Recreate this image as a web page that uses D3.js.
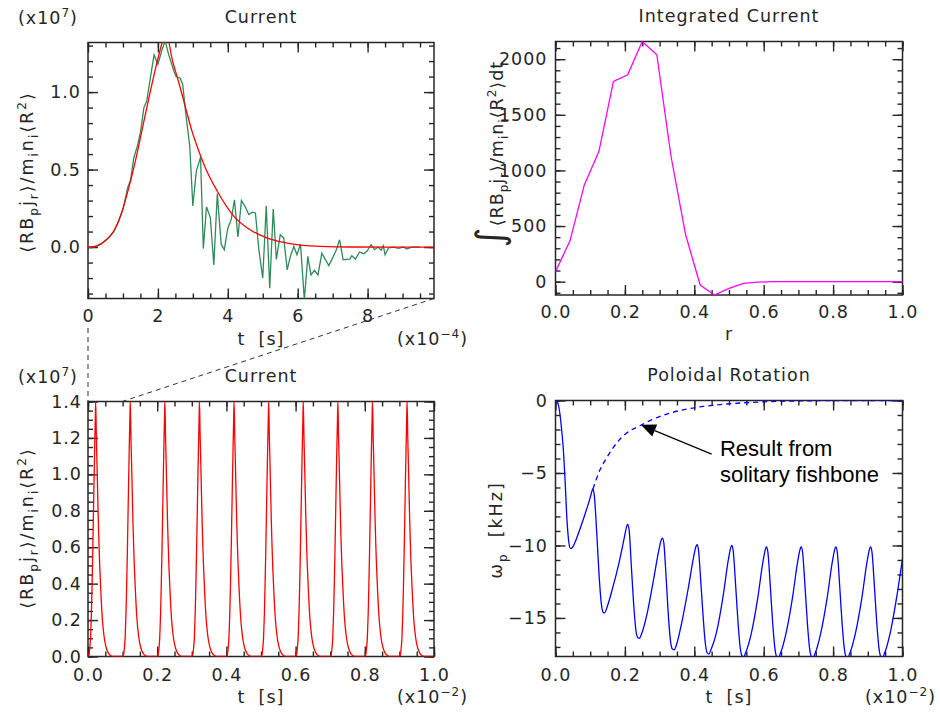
<!DOCTYPE html>
<html>
<head>
<meta charset="utf-8">
<script src="https://cdn.jsdelivr.net/npm/d3@7"></script>
<style>
  body { margin: 0; background: #fff; }
  svg text { font-family: "DejaVu Sans", sans-serif; font-size: 17.5px; letter-spacing: 1px; fill: #262626; }
  svg text.ylab { letter-spacing: 2px; }
  svg text.ylab.tight { letter-spacing: 1px; }
  svg text.note { font-family: "Liberation Sans", Arial, sans-serif; font-size: 22px; letter-spacing: 0; fill: #000; }
</style>
</head>
<body>
<script>
// ---- top-left: simulated current (green), t in 1e-4 s, value in 1e7
const tSim = [0, 0.1, 0.2, 0.31, 0.4, 0.5, 0.6, 0.74, 0.85, 1.0, 1.13, 1.22, 1.31, 1.41, 1.5, 1.6, 1.68, 1.79, 1.89, 2.0,
  2.12, 2.21, 2.31, 2.46, 2.52, 2.64, 2.71, 2.79, 2.91, 3.0, 3.1, 3.22, 3.3, 3.39, 3.5, 3.6, 3.7, 3.81, 3.9, 4.0,
  4.1, 4.19, 4.29, 4.39, 4.5, 4.6, 4.7, 4.79, 4.89, 5.0, 5.1, 5.2, 5.3, 5.39, 5.5, 5.6, 5.7, 5.79, 5.89, 5.98,
  6.08, 6.19, 6.29, 6.38, 6.48, 6.58, 6.69, 6.89, 7.0, 7.1, 7.2, 7.3, 7.4, 7.49, 7.55, 7.65, 7.77, 7.89, 7.98, 8.1,
  8.2, 8.3, 8.39, 8.45, 8.5, 8.6, 8.74, 8.88, 9.02, 9.12, 9.26, 9.4, 9.5];
const jSim = [0, 0.0, 0.003, 0.015, 0.025, 0.04, 0.06, 0.10, 0.15, 0.24, 0.38, 0.435, 0.575, 0.65, 0.74, 0.90, 0.94, 1.10, 1.24, 1.18,
  1.275, 1.33, 1.24, 1.135, 1.10, 1.09, 1.05, 0.877, 0.655, 0.265, 0.49, 0.58, -0.01, 0.26, 0.19, -0.115, 0.345, 0.02, -0.017, 0.12,
  0.18, 0.305, 0.065, 0.30, 0.26, 0.21, 0.225, 0.22, -0.02, -0.2, 0.267, -0.265, 0.245, -0.08, 0.08, 0.06, -0.147, -0.06, 0.004, -0.05,
  0.02, -0.34, -0.06, -0.18, -0.15, -0.18, -0.04, -0.12, -0.07, -0.02, 0.047, -0.082, -0.08, -0.078, -0.056, -0.078, -0.032, -0.043, -0.028, 0.015,
  -0.017, 0, -0.02, 0.008, -0.05, -0.006, 0, -0.008, 0, -0.013, 0, 0, 0];

// fitted single pulse (red), t in 1e-4 s
const tFit = [0, 0.27, 0.51, 0.74, 0.98, 1.17, 1.36, 1.55, 1.74, 1.93, 2.12, 2.22, 2.41, 2.6, 2.79, 2.98, 3.17, 3.36,
  3.7, 4.17, 4.65, 5.13, 5.6, 6.08, 6.65, 7.5, 9.9];
const jFit = [0, 0.008, 0.045, 0.105, 0.235, 0.385, 0.56, 0.76, 0.96, 1.15, 1.32, 1.40, 1.21, 1.06, 0.90, 0.745, 0.62, 0.51,
  0.36, 0.20, 0.11, 0.058, 0.03, 0.013, 0.004, 0.0005, 0];

// ---- top-right: integrated current vs r
const rInt = [0, 0.042, 0.083, 0.125, 0.167, 0.208, 0.25, 0.292, 0.333, 0.375, 0.417, 0.458, 0.5, 0.542, 0.583,
  0.625, 0.667, 0.708, 0.75, 0.792, 0.833, 0.875, 0.917, 0.958, 1.0];
const jInt = [90, 369, 870, 1170, 1800, 1860, 2159, 2040, 1125, 420, -30, -120, -60, -15, -5,
  0, 0, 0, 0, 0, 0, 0, 0, 0, 0];

// ---- bottom-left: onset times of the repeated pulses (1e-2 s)
const pulseOnset = [0, 0.1, 0.2, 0.3, 0.4, 0.5, 0.6, 0.7, 0.8, 0.9];

// ---- bottom-right: poloidal rotation (kHz), t in 1e-2 s
const tRot = [0, 0.004, 0.010, 0.016, 0.022, 0.028, 0.033, 0.038, 0.043, 0.048, 0.056, 0.070, 0.089, 0.100, 0.105, 0.108,
  0.112, 0.119, 0.126, 0.132, 0.137, 0.142, 0.148, 0.164, 0.183, 0.198, 0.205, 0.208,
  0.212, 0.219, 0.226, 0.232, 0.237, 0.242, 0.248, 0.264, 0.283, 0.298, 0.305, 0.308,
  0.312, 0.319, 0.326, 0.332, 0.337, 0.342, 0.348, 0.364, 0.383, 0.398, 0.405, 0.408,
  0.412, 0.419, 0.426, 0.432, 0.437, 0.442, 0.448, 0.464, 0.483, 0.498, 0.505, 0.508,
  0.512, 0.519, 0.526, 0.532, 0.537, 0.542, 0.548, 0.564, 0.583, 0.598, 0.605, 0.608,
  0.612, 0.619, 0.626, 0.632, 0.637, 0.642, 0.648, 0.664, 0.683, 0.698, 0.705, 0.708,
  0.712, 0.719, 0.726, 0.732, 0.737, 0.742, 0.748, 0.764, 0.783, 0.798, 0.805, 0.808,
  0.812, 0.819, 0.826, 0.832, 0.837, 0.842, 0.848, 0.864, 0.883, 0.898, 0.905, 0.908,
  0.912, 0.919, 0.926, 0.932, 0.937, 0.942, 0.948, 0.964, 0.983, 1.0];
const wRot = [0, -0.05, -0.5, -1.6, -3.2, -5.7, -8.2, -9.7, -10.2, -10.15, -9.8, -8.9, -7.55, -6.7, -6.25, -6.1,
  -6.6, -9.2, -12.2, -14.0, -14.6, -14.65, -14.3, -13.0, -11.2, -9.5, -8.7, -8.55,
  -8.9, -11.6, -14.3, -15.9, -16.35, -16.4, -16.1, -14.7, -12.3, -10.3, -9.6, -9.5,
  -9.8, -12.3, -15.1, -16.7, -17.15, -17.2, -16.9, -15.3, -12.9, -10.8, -10.05, -9.95,
  -10.3, -12.6, -15.1, -16.8, -17.4, -17.5, -17.2, -16.0, -13.5, -11.0, -10.15, -10.0,
  -10.35, -12.7, -15.3, -17.0, -17.6, -17.7, -17.4, -16.1, -13.6, -11.1, -10.25, -10.1,
  -10.45, -12.8, -15.4, -17.05, -17.65, -17.75, -17.45, -16.1, -13.6, -11.1, -10.25, -10.1,
  -10.45, -12.8, -15.4, -17.05, -17.65, -17.75, -17.45, -16.1, -13.6, -11.1, -10.25, -10.1,
  -10.45, -12.8, -15.4, -17.05, -17.65, -17.75, -17.45, -16.1, -13.6, -11.1, -10.25, -10.1,
  -10.45, -12.8, -15.4, -17.05, -17.65, -17.75, -17.45, -16.1, -13.6, -10.9];
// result from a solitary fishbone (dashed)
const tSol = [0.108, 0.128, 0.147, 0.176, 0.205, 0.243, 0.282, 0.33, 0.378, 0.426, 0.474, 0.522, 0.6, 0.7, 0.8, 0.9, 1.0];
const wSol = [-6.1, -4.8, -3.97, -2.94, -2.25, -1.74, -1.28, -0.87, -0.59, -0.41, -0.28, -0.19, -0.09, -0.03, -0.01, 0, 0];

// ---- tick labels
const ticks1x = [0, 2, 4, 6, 8], ticks1y = [0, 0.5, 1.0];
const ticks2x = [0, 0.2, 0.4, 0.6, 0.8, 1.0], ticks2y = [0, 500, 1000, 1500, 2000];
const ticks3x = [0, 0.2, 0.4, 0.6, 0.8, 1.0], ticks3y = [0, 0.2, 0.4, 0.6, 0.8, 1.0, 1.2, 1.4];
const ticks4x = [0, 0.2, 0.4, 0.6, 0.8, 1.0], ticks4y = [0, -5, -10, -15];

const AXIS = "#262626";
const svg = d3.select("body").append("svg").attr("width", 940).attr("height", 713);
let clipCount = 0;

// text with sub/superscripts: parts = [[string, "sub"|"sup"|undefined], ...]
function rich(sel, parts) {
  let shift = 0;
  parts.forEach(([s, kind]) => {
    const to = kind === "sub" ? 4.5 : kind === "sup" ? -7 : 0;
    const ts = sel.append("tspan").attr("dy", to - shift).text(s);
    if (kind) ts.style("font-size", "12px");
    shift = to;
  });
  return sel;
}

function panel(box, o) {
  const w = box.right - box.left, h = box.bottom - box.top;
  const g = svg.append("g").attr("transform", `translate(${box.left},${box.top})`);
  const x = d3.scaleLinear().domain(o.xDomain).range([0, w]);
  const y = d3.scaleLinear().domain(o.yDomain).range([h, 0]);

  const sides = [
    { make: () => d3.axisBottom(x), at: `translate(0,${h})`, major: o.xMajor, minor: o.xMinor, fmt: o.xFmt, pad: o.xPad },
    { make: () => d3.axisTop(x), at: null, major: o.xMajor, minor: o.xMinor },
    { make: () => d3.axisLeft(y), at: null, major: o.yMajor, minor: o.yMinor, fmt: o.yFmt, pad: o.yPad },
    { make: () => d3.axisRight(y), at: `translate(${w},0)`, major: o.yMajor, minor: o.yMinor }
  ];
  sides.forEach(s => {
    const minor = g.append("g").attr("transform", s.at)
      .call(s.make().tickValues(s.minor).tickSize(-5).tickFormat(""));
    const major = g.append("g").attr("transform", s.at)
      .call(s.make().tickValues(s.major).tickSize(-10).tickPadding(s.pad || 0).tickFormat(s.fmt || (() => "")));
    [minor, major].forEach(a => {
      a.select(".domain").remove();
      a.selectAll("line").attr("stroke", AXIS).attr("stroke-width", 1.4);
    });
  });

  g.append("rect").attr("width", w).attr("height", h)
    .attr("fill", "none").attr("stroke", AXIS).attr("stroke-width", 1.5);

  const clipId = "clip" + (++clipCount);
  g.append("clipPath").attr("id", clipId).append("rect").attr("width", w).attr("height", h);
  const plot = g.append("g").attr("clip-path", `url(#${clipId})`);

  // title
  svg.append("text").attr("x", box.left + w / 2).attr("y", box.top - 19.5)
    .attr("text-anchor", "middle").text(o.title);
  return { g, x, y, w, h, plot };
}

function lineOf(p, xs, ys, color, curve, dash) {
  const pts = xs.map((v, i) => [v, ys[i]]);
  p.plot.append("path").datum(pts)
    .attr("fill", "none").attr("stroke", color).attr("stroke-width", 1.3)
    .attr("stroke-dasharray", dash || null)
    .attr("d", d3.line().x(d => p.x(d[0])).y(d => p.y(d[1])).curve(curve || d3.curveLinear));
}

function yLabel(x, y, parts) {
  return rich(svg.append("text").attr("class", "ylab").attr("text-anchor", "middle")
    .attr("transform", `translate(${x},${y}) rotate(-90)`), parts);
}

const fmt1 = d3.format(".1f");
const fmtD = d3.format("d");

// ---------- panel 1: Current (zoom) ----------
const p1 = panel({ left: 88, top: 42.5, right: 434, bottom: 298.5 }, {
  title: "Current", xDomain: [0, 9.9], yDomain: [-0.332, 1.32],
  xMajor: ticks1x, xMinor: d3.range(0, 9.9, 0.5), yMajor: ticks1y, yMinor: d3.range(-0.3, 1.31, 0.1),
  xFmt: fmtD, yFmt: fmt1, xPad: 11.5, yPad: 7
});
lineOf(p1, tSim, jSim, "#2e8b57");
lineOf(p1, tFit, jFit, "#ff0000", d3.curveMonotoneX);

// ---------- panel 2: Integrated Current ----------
const p2 = panel({ left: 555.5, top: 41.5, right: 902.5, bottom: 295 }, {
  title: "Integrated Current", xDomain: [0, 1], yDomain: [-120, 2159],
  xMajor: ticks2x, xMinor: d3.range(0, 1.001, 0.05), yMajor: ticks2y, yMinor: d3.range(-100, 2101, 100),
  xFmt: fmt1, yFmt: fmtD, xPad: 11, yPad: 8
});
lineOf(p2, rInt, jInt, "#ff00ff");

// ---------- panel 3: Current (full run) ----------
const p3 = panel({ left: 88, top: 401.5, right: 434, bottom: 656.5 }, {
  title: "Current", xDomain: [0, 1], yDomain: [0, 1.4],
  xMajor: ticks3x, xMinor: d3.range(0, 1.001, 0.05), yMajor: ticks3y, yMinor: d3.range(0, 1.401, 0.05),
  xFmt: fmt1, yFmt: fmt1, xPad: 12.5, yPad: 6
});
const tPulse = pulseOnset.flatMap(s => tFit.map(t => s + t / 100)).concat([1.0]);
const jPulse = pulseOnset.flatMap(() => jFit).concat([0]);
lineOf(p3, tPulse, jPulse, "#ff0000", d3.curveMonotoneX);

// ---------- panel 4: Poloidal Rotation ----------
const p4 = panel({ left: 555.5, top: 400.5, right: 902.5, bottom: 656.5 }, {
  title: "Poloidal Rotation", xDomain: [0, 1], yDomain: [-17.66, 0],
  xMajor: ticks4x, xMinor: d3.range(0, 1.001, 0.05), yMajor: ticks4y, yMinor: d3.range(-17, 0.1, 1),
  xFmt: fmt1, yFmt: d3.format("d"), xPad: 12.5, yPad: 7.5
});
lineOf(p4, tSol, wSol, "#0000ff", d3.curveMonotoneX, "5,4");
lineOf(p4, tRot, wRot, "#0000ff", d3.curveMonotoneX);

// annotation arrow and text (data units of panel 4)
const arrowTail = [0.45, -3.7], arrowTip = [0.246, -1.68];
const ax0 = p4.x(arrowTail[0]), ay0 = p4.y(arrowTail[1]);
const ax1 = p4.x(arrowTip[0]), ay1 = p4.y(arrowTip[1]);
const len = Math.hypot(ax1 - ax0, ay1 - ay0), ux = (ax1 - ax0) / len, uy = (ay1 - ay0) / len;
const headL = 15, headW = 6.5;
p4.g.append("line").attr("x1", ax0).attr("y1", ay0).attr("x2", ax1 - ux * headL).attr("y2", ay1 - uy * headL)
  .attr("stroke", "#000").attr("stroke-width", 1.2);
p4.g.append("path").attr("fill", "#000").attr("d",
  `M${ax1},${ay1}L${ax1 - ux * headL - uy * headW},${ay1 - uy * headL + ux * headW}` +
  `L${ax1 - ux * headL + uy * headW},${ay1 - uy * headL - ux * headW}Z`);
p4.g.append("text").attr("class", "note").attr("x", p4.x(0.474)).attr("y", p4.y(-3.86)).text("Result from");
p4.g.append("text").attr("class", "note").attr("x", p4.x(0.474)).attr("y", p4.y(-5.59)).text("solitary fishbone");

// ---------- axis titles ----------
const currentLabel = [["\u27E8RB"], ["p", "sub"], ["j"], ["r", "sub"], ["\u27E9/m"], ["i", "sub"], ["n"], ["i", "sub"], ["\u27E8R"], ["2", "sup"], ["\u27E9"]];
yLabel(33, 172, currentLabel);
yLabel(33, 528, currentLabel);
const intLabel = yLabel(503, 150, [["\u222B"]].concat(currentLabel, [["dt"]])).classed("tight", true);
intLabel.select("tspan").style("font-size", "38px").attr("dx", -4);
yLabel(502, 530, [["\u03C9"], ["p", "sub"], ["\u00A0\u00A0[kHz]"]]);

function xTitle(p, box, txt, dyOff) {
  svg.append("text").attr("x", box.left + p.w / 2).attr("y", box.bottom + dyOff)
    .attr("text-anchor", "middle").text(txt);
}
xTitle(p1, { left: 88, bottom: 298.5 }, "t\u00A0\u00A0[s]", 46.5);
xTitle(p2, { left: 555.5, bottom: 295 }, "r", 45);
xTitle(p3, { left: 88, bottom: 656.5 }, "t\u00A0\u00A0[s]", 46.5);
xTitle(p4, { left: 555.5, bottom: 656.5 }, "t\u00A0\u00A0[s]", 46.5);

// scale factors
rich(svg.append("text").attr("x", 18).attr("y", 24), [["(x10"], ["7", "sup"], [")"]]);
rich(svg.append("text").attr("x", 18).attr("y", 383), [["(x10"], ["7", "sup"], [")"]]);
rich(svg.append("text").attr("x", 397).attr("y", 345), [["(x10"], ["\u22124", "sup"], [")"]]);
rich(svg.append("text").attr("x", 397).attr("y", 703), [["(x10"], ["\u22122", "sup"], [")"]]);
rich(svg.append("text").attr("x", 865).attr("y", 703), [["(x10"], ["\u22122", "sup"], [")"]]);

// ---------- dashed zoom connectors ----------
const zoomEnd = p1.x.domain()[1] / 100;
svg.append("line").attr("x1", 88 + p1.x(0)).attr("y1", 328).attr("x2", 88 + p3.x(0)).attr("y2", 401.5)
  .attr("stroke", "#333").attr("stroke-width", 1).attr("stroke-dasharray", "5,4");
svg.append("line").attr("x1", 88 + p1.x(p1.x.domain()[1])).attr("y1", 298.5)
  .attr("x2", 88 + p3.x(zoomEnd)).attr("y2", 401.5)
  .attr("stroke", "#333").attr("stroke-width", 1).attr("stroke-dasharray", "5,4");
</script>
</body>
</html>
